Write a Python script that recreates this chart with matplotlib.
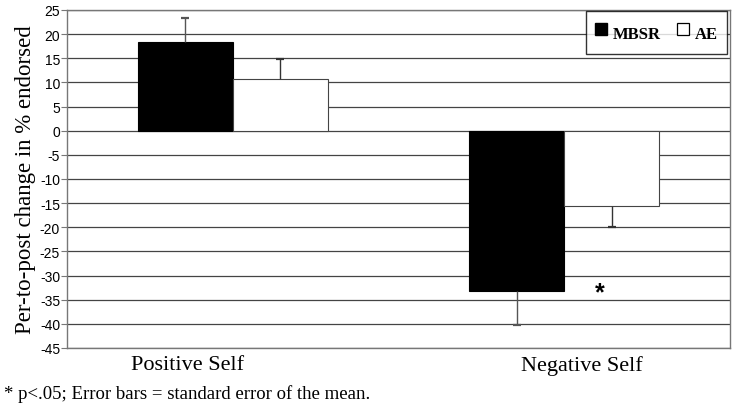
import numpy as np
import matplotlib
matplotlib.use("Agg")
import matplotlib.pyplot as plt
from matplotlib.lines import Line2D

categories = ["Positive Self", "Negative Self"]
mbsr_means = [18.3, -33.3]
mbsr_sem = [5.0, 7.0]
ae_means = [10.8, -15.6]
ae_sem = [4.1, 4.4]
yticks = list(range(-45, 30, 5))

serif = ["Liberation Serif", "DejaVu Serif"]
sans = ["Liberation Sans Narrow", "Liberation Sans", "DejaVu Sans"]

fig = plt.figure(figsize=(7.34, 4.10), dpi=100)
ax = fig.add_axes([0.0913, 0.1488, 0.903, 0.8244])

x = np.arange(len(categories))
width = 0.287


def outward_bars(xs, means, sems, color):
    # error bar only on the side away from zero, cap at the far end
    ends = [m + s if m >= 0 else m - s for m, s in zip(means, sems)]
    ax.vlines(xs, means, ends, colors=color, linewidth=1, zorder=4)
    ax.hlines(ends, xs - 0.012, xs + 0.012, colors=color, linewidth=1.6, zorder=4)


ax.bar(x - width / 2, mbsr_means, width, color="black", edgecolor="black",
       linewidth=0.8, zorder=3)
ax.bar(x + width / 2, ae_means, width, color="white", edgecolor="#444444",
       linewidth=0.8, zorder=3)
outward_bars(x - width / 2, mbsr_means, mbsr_sem, "#555555")
outward_bars(x + width / 2, ae_means, ae_sem, "#333333")

ax.set_xlim(-0.5, 1.5)
ax.set_ylim(-45, 25)
ax.set_yticks(yticks)
ax.set_yticklabels([str(t) for t in yticks], family=sans, fontsize=10)
ax.set_xticks([])
ax.grid(axis="y", color="#444444", linewidth=0.9, zorder=0)
ax.set_axisbelow(True)
for s in ax.spines.values():
    s.set_color("#777777")
    s.set_linewidth(1)
ax.tick_params(axis="y", direction="out", length=4, color="#777777", pad=1)

ax.set_ylabel("Per-to-post change in % endorsed", family=serif, fontsize=16.5, labelpad=3)

label_x = [-0.135, 1.054]
for xi, name in zip(label_x, categories):
    ax.text(xi, -46.4, name, ha="center", va="top", fontfamily=serif, fontsize=16)

ax.text(1.108, -33.4, "*", ha="center", va="center", fontsize=18,
        fontweight="bold", family=sans)

fig.text(0.006, 0.038, "* p<.05; Error bars = standard error of the mean.",
         family=serif, fontsize=13.5, ha="left", va="center")

handles = [Line2D([], [], marker="s", linestyle="none", markersize=8.5,
                  markerfacecolor="black", markeredgecolor="black", label="MBSR"),
           Line2D([], [], marker="s", linestyle="none", markersize=8.5,
                  markerfacecolor="white", markeredgecolor="black",
                  markeredgewidth=0.9, label="AE")]
leg = ax.legend(handles=handles, loc="upper right", bbox_to_anchor=(0.9955, 0.997),
                borderaxespad=0, ncol=2, frameon=True, fancybox=False,
                handlelength=0.7, handleheight=1.9, handletextpad=0.35,
                columnspacing=1.0, borderpad=0.55,
                prop={"family": serif, "weight": "bold", "size": 12})
leg.get_frame().set_edgecolor("black")
leg.get_frame().set_linewidth(1)

fig.savefig("out.png", dpi=100)
